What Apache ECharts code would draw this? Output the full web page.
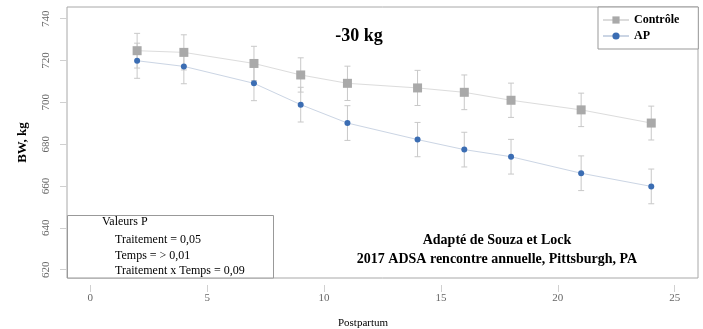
<!DOCTYPE html>
<html>
<head>
<meta charset="utf-8">
<script src="https://cdn.jsdelivr.net/npm/echarts@6/dist/echarts.min.js"></script>
<style>
html,body{margin:0;padding:0;background:#fff;}
#c{width:703px;height:329px;}
</style>
</head>
<body>
<div id="c"></div>
<script>
// ---- data ----
const days = [2, 4, 7, 9, 11, 14, 16, 18, 21, 24];
const controlBW = [724.7, 723.9, 718.6, 713.1, 709.1, 706.9, 704.8, 701.0, 696.4, 690.1];
const apBW = [719.9, 717.2, 709.1, 698.9, 690.1, 682.2, 677.4, 674.0, 666.1, 659.8];
const controlSE = [8.3, 8.4, 8.2, 8.2, 8.2, 8.4, 8.3, 8.2, 8.0, 8.1];
const apSE = [8.4, 8.3, 8.3, 8.3, 8.3, 8.2, 8.3, 8.3, 8.3, 8.3];
const yTicks = [620, 640, 660, 680, 700, 720, 740];
const xTicks = [0, 5, 10, 15, 20, 25];
const seriesNames = ['Contrôle', 'AP'];
const titleText = '-30 kg';
const pValueLines = ['Valeurs P', 'Traitement = 0,05', 'Temps = > 0,01', 'Traitement x Temps = 0,09'];
const sourceLines = ['Adapté de Souza et Lock', '2017 ADSA rencontre annuelle, Pittsburgh, PA'];

const FONT = '"Liberation Serif", "DejaVu Serif", serif';

function pts(ys) { return days.map((d, i) => [d, ys[i]]); }
function errData(ys, se) { return days.map((d, i) => [d, ys[i] - se[i], ys[i] + se[i]]); }

function errRender(color) {
  return function (params, api) {
    const x = api.value(0), lo = api.value(1), hi = api.value(2);
    const p1 = api.coord([x, hi]), p2 = api.coord([x, lo]);
    const c = 3;
    const st = { stroke: color, lineWidth: 1 };
    return {
      type: 'group',
      children: [
        { type: 'line', shape: { x1: p1[0], y1: p1[1], x2: p2[0], y2: p2[1] }, style: st },
        { type: 'line', shape: { x1: p1[0] - c, y1: p1[1], x2: p1[0] + c, y2: p1[1] }, style: st },
        { type: 'line', shape: { x1: p2[0] - c, y1: p2[1], x2: p2[0] + c, y2: p2[1] }, style: st }
      ]
    };
  };
}

const chart = echarts.init(document.getElementById('c'), null, { renderer: 'canvas' });
chart.setOption({
  animation: false,
  backgroundColor: '#fff',
  textStyle: { fontFamily: FONT },
  grid: { left: 67, top: 7, right: 5, bottom: 51, show: true, borderColor: '#a8a8a8', borderWidth: 1, backgroundColor: '#fff' },
  xAxis: {
    type: 'value', min: -1, max: 26,
    offset: 7,
    axisLine: { show: false, onZero: false },
    axisTick: { show: true, length: 7, lineStyle: { color: '#d0d0d0' }, customValues: xTicks },
    axisLabel: { color: '#666', fontFamily: FONT, fontSize: 11, margin: 8, customValues: xTicks },
    splitLine: { show: false }
  },
  yAxis: {
    type: 'value', min: 616, max: 745.6,
    name: 'BW, kg', nameLocation: 'middle', nameGap: 38, nameRotate: 90,
    nameTextStyle: { color: '#000', fontFamily: FONT, fontSize: 13, fontWeight: 'bold' },
    axisLine: { show: false, onZero: false },
    axisTick: { show: true, length: 7, lineStyle: { color: '#d0d0d0' }, customValues: yTicks },
    axisLabel: { color: '#666', fontFamily: FONT, fontSize: 11, margin: 15, rotate: 90, customValues: yTicks },
    splitLine: { show: false }
  },
  legend: {
    orient: 'vertical', left: 598, top: 7,
    data: seriesNames,
    itemWidth: 26, itemHeight: 9, itemGap: 4,
    padding: [7, 19, 7, 4],
    borderColor: '#999', borderWidth: 1, backgroundColor: '#fff',
    textStyle: { color: '#000', fontFamily: FONT, fontSize: 12, fontWeight: 'bold' }
  },
  series: [
    {
      type: 'custom', name: 'errC', renderItem: errRender('#c8c8c8'),
      data: errData(controlBW, controlSE), z: 1, silent: true
    },
    {
      type: 'custom', name: 'errA', renderItem: errRender('#c8c8c8'),
      data: errData(apBW, apSE), z: 1, silent: true
    },
    {
      type: 'line', name: seriesNames[0], data: pts(controlBW), z: 3,
      symbol: 'rect', symbolSize: 9,
      itemStyle: { color: '#a9a9a9' },
      lineStyle: { color: '#dcdcdc', width: 1 }
    },
    {
      type: 'line', name: seriesNames[1], data: pts(apBW), z: 3,
      symbol: 'circle', symbolSize: 6,
      itemStyle: { color: '#3b6db3' },
      lineStyle: { color: '#cbd5e4', width: 1 }
    }
  ],
  graphic: [
    { type: 'text', x: 359, y: 36, style: { text: titleText, font: 'bold 18px ' + FONT, fill: '#000', align: 'center', verticalAlign: 'middle' }, z: 10 },
    { type: 'rect', shape: { x: 67.5, y: 215.5, width: 206, height: 62.5 }, style: { fill: '#fff', stroke: '#999', lineWidth: 1 }, z: 5 },
    { type: 'text', x: 102, y: 222, style: { text: pValueLines[0], font: '12px ' + FONT, fill: '#000', verticalAlign: 'middle' }, z: 6 },
    { type: 'text', x: 115, y: 240, style: { text: pValueLines[1], font: '12px ' + FONT, fill: '#000', verticalAlign: 'middle' }, z: 6 },
    { type: 'text', x: 115, y: 255.5, style: { text: pValueLines[2], font: '12px ' + FONT, fill: '#000', verticalAlign: 'middle' }, z: 6 },
    { type: 'text', x: 115, y: 271, style: { text: pValueLines[3], font: '12px ' + FONT, fill: '#000', verticalAlign: 'middle' }, z: 6 },
    { type: 'text', x: 497, y: 240, style: { text: sourceLines[0], font: 'bold 14px ' + FONT, fill: '#000', align: 'center', verticalAlign: 'middle' }, z: 6 },
    { type: 'text', x: 497, y: 259, style: { text: sourceLines[1], font: 'bold 14px ' + FONT, fill: '#000', align: 'center', verticalAlign: 'middle' }, z: 6 },
    { type: 'text', x: 363, y: 323, style: { text: 'Postpartum', font: '11px ' + FONT, fill: '#000', align: 'center', verticalAlign: 'middle' }, z: 6 }
  ]
});
</script>
</body>
</html>
